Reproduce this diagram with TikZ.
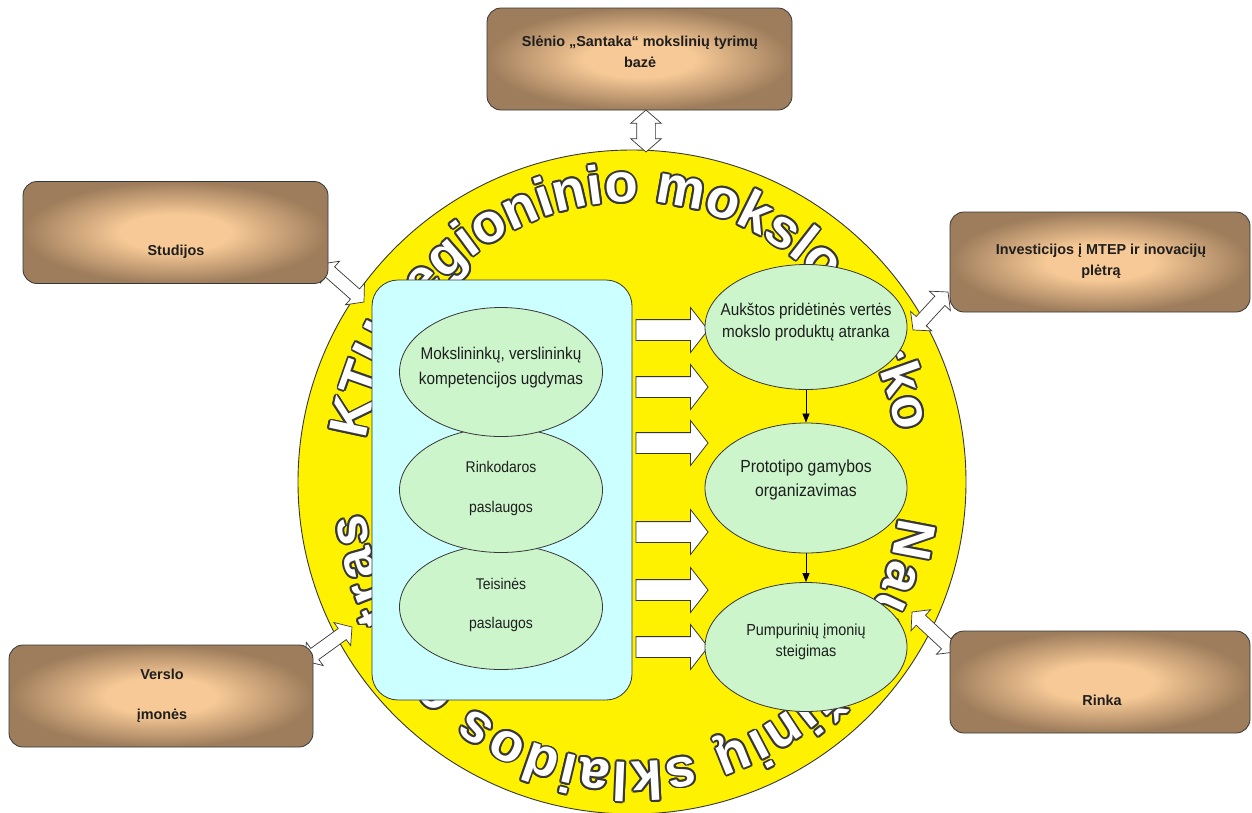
\documentclass[tikz,border=0pt]{standalone}
\usepackage{fontspec}
\setmainfont{Liberation Sans}
\newfontfamily\ellfont{Liberation Sans}[FakeStretch=0.9]
\newfontfamily\arcfont{Liberation Sans}
\usetikzlibrary{shapes.geometric,shapes.arrows,decorations.text,calc,arrows.meta}
\definecolor{peach}{RGB}{247,201,150}
\definecolor{brownedge}{RGB}{158,125,92}
\definecolor{outl}{RGB}{55,55,55}
\definecolor{cyanbox}{RGB}{204,255,255}
\definecolor{ellgreen}{RGB}{204,245,204}
\definecolor{txt}{RGB}{30,30,30}
\pgfdeclareradialshading{boxshade}{\pgfpoint{0bp}{0bp}}{color(0bp)=(peach); color(9bp)=(peach); color(25bp)=(brownedge); color(50bp)=(brownedge)}
\newcommand\ringtext[1]{%
\path[decorate,decoration={text along path,text color=#1,text align=fit to path,
  text={|\arcfont\bfseries\fontsize{54.5}{60}\selectfont|KTU regioninio mokslo parko}}]
  (366.0,-440.1) arc[start angle=171.4,end angle=10.3,x radius=269,y radius=280];
\path[decorate,decoration={text along path,text color=#1,text align=fit to path,
  text={|\arcfont\bfseries\fontsize{54.5}{60}\selectfont|Naujų žinių sklaidos centras}}]
  (898.9,-517.1) arc[start angle=-7.2,end angle=-173.6,x radius=269,y radius=280];}
\newcommand\conn[4]{\path let \p1=($(#2)-(#1)$) in node[#3, rotate={atan2(\y1,\x1)}, minimum height={veclen(\x1,\y1)}] (#4) at ($(#1)!0.5!(#2)$) {};}
\begin{document}
\begin{tikzpicture}[x=1pt,y=1pt,
  brownbox/.style={draw=outl, line width=0.8pt, rounded corners=14pt, shading=boxshade, minimum width=305pt, minimum height=102pt, inner sep=0pt},
  boxtext/.style={font=\bfseries\fontsize{14.4}{21}\selectfont, text=txt, align=center, inner sep=0pt},
  greenell/.style={ellipse, draw=outl, line width=0.8pt, fill=ellgreen, minimum width=203pt, inner sep=0pt},
  elltext/.style={font=\ellfont\fontsize{16.5}{24}\selectfont, text=txt, align=center, inner sep=0pt},
  fatarrow/.style={single arrow, draw=outl, line width=0.8pt, fill=white, inner xsep=0pt, inner ysep=10pt, single arrow head extend=12pt, single arrow tip angle=104},
  dblarrow/.style={double arrow, draw=outl, line width=0.7pt, fill=white, inner xsep=0pt, inner ysep=6.5pt, double arrow head extend=7.5pt, double arrow tip angle=100},
  dblarrowbig/.style={dblarrow, inner ysep=9pt, double arrow head extend=6pt, double arrow tip angle=98},
  smallarrow/.style={-{Triangle[length=9pt,width=7pt]}, line width=0.7pt, black}
]
\useasboundingbox (0,0) rectangle (1252,-812);
% big circle
\node[ellipse, draw=outl, line width=0.9pt, fill=yellow, minimum width=668pt, minimum height=664pt, inner sep=0pt] (circ) at (632,-482) {};
% ring text with outline
\foreach \a in {0,30,...,330}{\begin{scope}[shift={(\a:1.9)}]\ringtext{outl}\end{scope}}
\ringtext{white}
% connector end points
\coordinate (tA) at (646,-110); \coordinate (tB) at (646,-152);
\coordinate (sA) at (321,-264); \coordinate (sB) at (364,-302);
\coordinate (iA) at (948,-292); \coordinate (iB) at (913,-330);
\coordinate (vA) at (305,-661); \coordinate (vB) at (352,-627);
\coordinate (rA) at (955,-652); \coordinate (rB) at (912,-612);
\conn{tA}{tB}{dblarrowbig}{arrT}
\conn{sA}{sB}{dblarrow}{arrS}
\conn{iA}{iB}{dblarrow}{arrI}
\conn{vA}{vB}{dblarrow}{arrV}
\conn{rA}{rB}{dblarrow}{arrR}
% blue box
\node[draw=outl, line width=0.8pt, fill=cyanbox, rounded corners=26pt, minimum width=260pt, minimum height=420pt, inner sep=0pt] (blue) at (502,-490) {};
% fat arrows
\foreach \yy [count=\i] in {330,387,443,532,590,647}{
  \coordinate (fa\i) at (632,-\yy); \coordinate (fb\i) at (704,-\yy);
  \conn{fa\i}{fb\i}{fatarrow}{fat\i}}
% left ellipses
\node[greenell, minimum height=125pt] (teis) at (501,-607) {};
\node[greenell, minimum height=125pt] (rink) at (501,-490) {};
\node[greenell, minimum height=129pt] (mok) at (501,-372) {};
\node[elltext, font=\ellfont\fontsize{17}{25}\selectfont] (mokT) at (501,-368) {Mokslininkų, verslininkų\\kompetencijos ugdymas};
\node[elltext, font=\ellfont\fontsize{15.5}{40}\selectfont] (rinkT) at (501,-488) {Rinkodaros\\paslaugos};
\node[elltext, font=\ellfont\fontsize{15.5}{39}\selectfont] (teisT) at (501,-604.5) {Teisinės\\paslaugos};
% right ellipses
\node[greenell, minimum width=202pt, minimum height=125pt] (auk) at (806,-327) {};
\node[greenell, minimum width=202pt, minimum height=130pt] (proto) at (806,-488) {};
\node[greenell, minimum width=202pt, minimum height=129pt] (pump) at (806,-647) {};
\node[elltext, font=\ellfont\fontsize{17}{22}\selectfont] (aukT) at (806,-322.5) {Aukštos pridėtinės vertės\\mokslo produktų atranka};
\node[elltext, font=\ellfont\fontsize{17.5}{24}\selectfont] (protoT) at (806,-480) {Prototipo gamybos\\organizavimas};
\node[elltext, font=\ellfont\fontsize{16}{21}\selectfont] (pumpT) at (806,-642) {Pumpurinių įmonių\\steigimas};
\draw[smallarrow] (auk.south) -- (proto.north);
\draw[smallarrow] (proto.south) -- (pump.north);
% brown boxes
\node[brownbox] (santaka) at (639.5,-59) {};
\node[brownbox] (studijos) at (175.5,-232.5) {};
\node[brownbox, minimum width=300pt, minimum height=100pt] (invest) at (1100,-262) {};
\node[brownbox, minimum width=304pt] (verslo) at (161,-696) {};
\node[brownbox, minimum width=300pt] (rinka) at (1100,-682) {};
\node[boxtext] (santakaT) at (640,-52) {Slėnio „Santaka“ mokslinių tyrimų\\bazė};
\node[boxtext] (studT) at (176,-252) {Studijos};
\node[boxtext] (invT) at (1101,-261) {Investicijos į MTEP ir inovacijų\\plėtrą};
\node[boxtext, font=\bfseries\fontsize{14.4}{40}\selectfont] (verT) at (162,-696) {Verslo\\įmonės};
\node[boxtext] (rinkaT) at (1102,-700) {Rinka};
\end{tikzpicture}
\end{document}
